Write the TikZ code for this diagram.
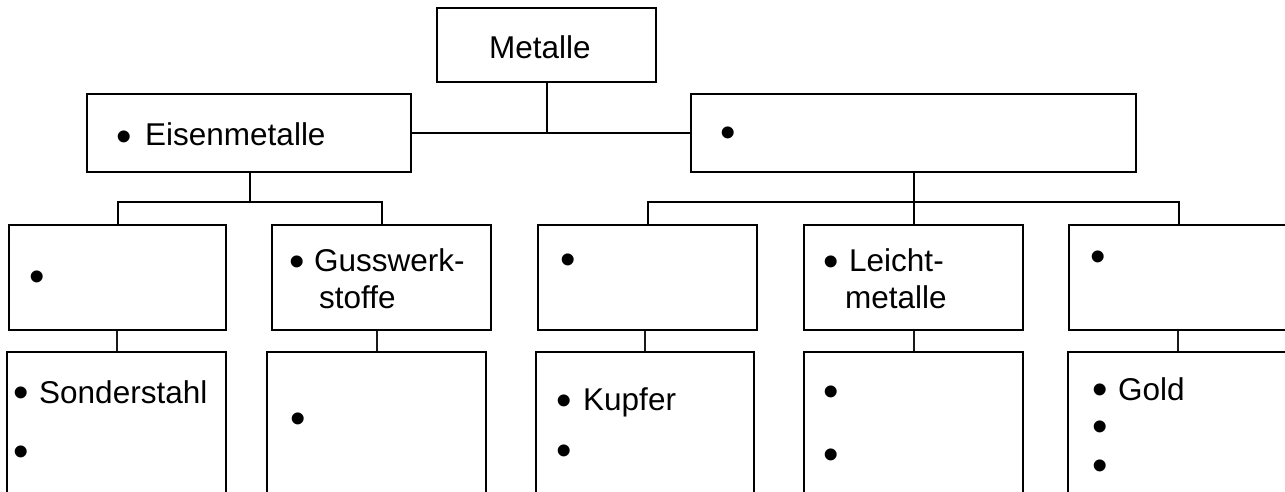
\documentclass[tikz,border=0pt]{standalone}
\usepackage{fontspec}
\setmainfont{Liberation Sans}
\begin{document}
\begin{tikzpicture}[x=1pt,y=-1pt,
  box/.style={draw=black, line width=2pt, rectangle, inner sep=0pt},
  conn/.style={draw=black, line width=2pt},
  thin conn/.style={draw=black!90, line width=2pt},
  txt/.style={anchor=base west, inner sep=0pt, font=\fontsize{31.5}{36}\selectfont},
  bul/.style={anchor=base, yshift=-15pt, inner sep=0pt, text height=22pt, text depth=0pt, font=\fontsize{44}{44}\selectfont}]
\useasboundingbox (0,0) rectangle (1285,492);
\clip (0,0) rectangle (1285,492);
\fill[white] (0,0) rectangle (1285,492);

% boxes
\node[box, minimum width=219pt, minimum height=74pt] (metalle) at (546.5,45) {};
\node[box, minimum width=324pt, minimum height=78pt] (eisen) at (249,133) {};
\node[box, minimum width=445pt, minimum height=78pt] (ne) at (913.5,133) {};

\node[box, minimum width=217pt, minimum height=105pt] (l2a) at (117.5,277.5) {};
\node[box, minimum width=219pt, minimum height=105pt] (l2b) at (381.5,277.5) {};
\node[box, minimum width=219pt, minimum height=105pt] (l2c) at (647.5,277.5) {};
\node[box, minimum width=219pt, minimum height=105pt] (l2d) at (913.5,277.5) {};
\node[box, minimum width=220pt, minimum height=105pt] (l2e) at (1179,277.5) {};

\node[box, minimum width=219pt, minimum height=160pt] (l3a) at (116.5,432) {};
\node[box, minimum width=219pt, minimum height=160pt] (l3b) at (376.5,432) {};
\node[box, minimum width=218pt, minimum height=160pt] (l3c) at (645,432) {};
\node[box, minimum width=219pt, minimum height=160pt] (l3d) at (913.5,432) {};
\node[box, minimum width=220pt, minimum height=160pt] (l3e) at (1178,432) {};

% connectors
\draw[conn] (metalle.south) -- (metalle.south |- eisen.east);
\draw[conn] (eisen.east) -- (ne.west);

\coordinate (jE) at (250,202);
\draw[conn] (eisen.south -| jE) -- (jE);
\draw[conn] (l2a.north) -- (l2a.north |- jE) -- (l2b.north |- jE) -- (l2b.north);

\coordinate (jN) at (913.5,202);
\draw[conn] (ne.south) -- (l2d.north);
\draw[conn] (l2c.north) -- (l2c.north |- jN) -- (l2e.north |- jN) -- (l2e.north);

\draw[thin conn] (l3a.north) -- (l3a.north |- l2a.south);
\draw[thin conn] (l3b.north) -- (l3b.north |- l2b.south);
\draw[thin conn] (l3c.north) -- (l3c.north |- l2c.south);
\draw[thin conn] (l3d.north) -- (l3d.north |- l2d.south);
\draw[thin conn] (l3e.north) -- (l3e.north |- l2e.south);

% texts
\node[txt] (tmet) at (489,59) {Metalle};

\node[bul] (b1) at (124,136) {•};
\node[txt] (t1) at (145,146) {Eisenmetalle};
\node[bul] (b2) at (728,132) {•};

\node[bul] (b3) at (37,276) {•};
\node[bul] (b4) at (297,261) {•};
\node[txt] (t4a) at (314,271) {Gusswerk-};
\node[txt] (t4b) at (319,308) {stoffe};
\node[bul] (b5) at (568,259) {•};
\node[bul] (b6) at (831,261) {•};
\node[txt] (t6a) at (849,271) {Leicht-};
\node[txt] (t6b) at (845,308) {metalle};
\node[bul] (b7) at (1098,256) {•};

\node[bul] (b8) at (21,392) {•};
\node[txt] (t8) at (39,403) {Sonderstahl};
\node[bul] (b9) at (21,451) {•};
\node[bul] (b10) at (298,418) {•};
\node[bul] (b11) at (564,400) {•};
\node[txt] (t11) at (583,410) {Kupfer};
\node[bul] (b12) at (564,450) {•};
\node[bul] (b13) at (831,391) {•};
\node[bul] (b14) at (831,454) {•};
\node[bul] (b15) at (1100,389) {•};
\node[txt] (t15) at (1118,400) {Gold};
\node[bul] (b16) at (1100,426) {•};
\node[bul] (b17) at (1100,465) {•};
\end{tikzpicture}
\end{document}
